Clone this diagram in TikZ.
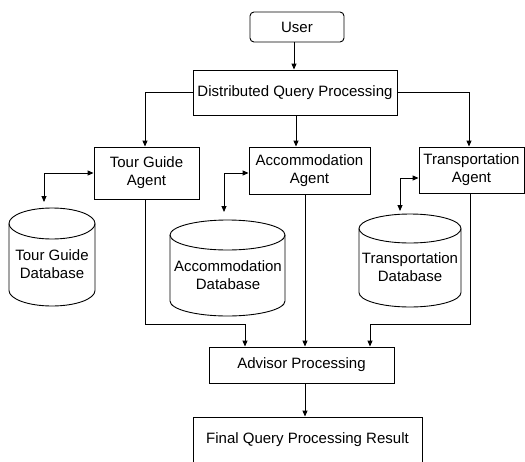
\documentclass[tikz,border=0pt]{standalone}
\usepackage{fontspec}
\setmainfont{Liberation Sans}
\usetikzlibrary{arrows.meta}
\begin{document}
\begin{tikzpicture}[x=1pt,y=-1pt,
  every node/.style={font=\fontsize{15}{18}\selectfont, align=center, inner sep=0pt},
  box/.style={draw, line width=0.9pt},
  arr/.style={line width=0.9pt, -{Triangle[length=6pt,width=5pt]}},
  darr/.style={line width=0.9pt, {Triangle[length=6pt,width=5pt]}-{Triangle[length=6pt,width=5pt]}},
  cyl/.style={line width=0.9pt}]
\useasboundingbox (0,0) rectangle (525,461);
% boxes
\node[box, rounded corners=4pt, minimum width=94pt, minimum height=30pt] (user) at (297,27) {User};
\node[box, minimum width=204pt, minimum height=45pt] (dqp) at (295,92.5) {Distributed Query Processing};
\node[box, minimum width=105pt, minimum height=52pt] (tg) at (146.5,173) {Tour Guide\\Agent};
\node[box, minimum width=121pt, minimum height=47pt] (acc) at (309.5,170.5) {Accommodation\\Agent};
\node[box, minimum width=105pt, minimum height=46pt] (tr) at (471.5,170) {Transportation\\Agent};
\node[box, minimum width=185pt, minimum height=36pt] (adv) at (301.5,365) {Advisor Processing};
\node[box, minimum width=229pt, minimum height=46pt] (fin) at (307.5,440) {\raisebox{1.5pt}{Final Query Processing Result}};
% cylinders
\draw[cyl] (52,223.5) ellipse [x radius=43pt, y radius=15.5pt];
\draw[cyl] (9,223.5) -- (9,290.5) arc[start angle=180, end angle=360, x radius=43pt, y radius=15.5pt] -- (95,223.5);
\node (tgdb) at (52,264) {Tour Guide\\Database};
\draw[cyl] (227.5,235) ellipse [x radius=57.5pt, y radius=15pt];
\draw[cyl] (170,235) -- (170,301) arc[start angle=180, end angle=360, x radius=57.5pt, y radius=15pt] -- (285,235);
\node (accdb) at (228,275) {Accommodation\\Database};
\draw[cyl] (410,228.5) ellipse [x radius=51pt, y radius=14.5pt];
\draw[cyl] (359,228.5) -- (359,292.5) arc[start angle=180, end angle=360, x radius=51pt, y radius=14.5pt] -- (461,228.5);
\node (trdb) at (410,267.5) {Transportation\\Database};
\coordinate (tgdbtop) at (44,202);
\coordinate (accdbtop) at (224,212);
\coordinate (trdbtop) at (400,211);
% connectors
\draw[arr] ([xshift=-3pt]user.south) -- ([xshift=-3pt]user.south |- dqp.north);
\draw[arr] (dqp.west) -| ([xshift=-1.5pt]tg.north);
\draw[arr] ([xshift=1pt]dqp.south) -- ([xshift=1pt]dqp.south |- acc.north);
\draw[arr] (dqp.east) -| ([xshift=-2.5pt]tr.north);
\draw[darr] (tg.west) -| (tgdbtop);
\draw[darr] ([yshift=-2.5pt]acc.west) -| (accdbtop);
\draw[darr] ([yshift=-8pt]tr.west) -| (trdbtop);
\draw[arr] ([xshift=-1.5pt]tg.south) -- ([xshift=-1.5pt]tg.south |- 0,324) -| ([xshift=-56.5pt]adv.north);
\draw[arr] ([xshift=-4.5pt]acc.south) -- ([xshift=-4.5pt]acc.south |- adv.north);
\draw[arr] ([xshift=-1.5pt]tr.south) -- ([xshift=-1.5pt]tr.south |- 0,324) -| ([xshift=68.5pt]adv.north);
\draw[arr] ([xshift=3.5pt]adv.south) -- ([xshift=3.5pt]adv.south |- fin.north);
\end{tikzpicture}
\end{document}
